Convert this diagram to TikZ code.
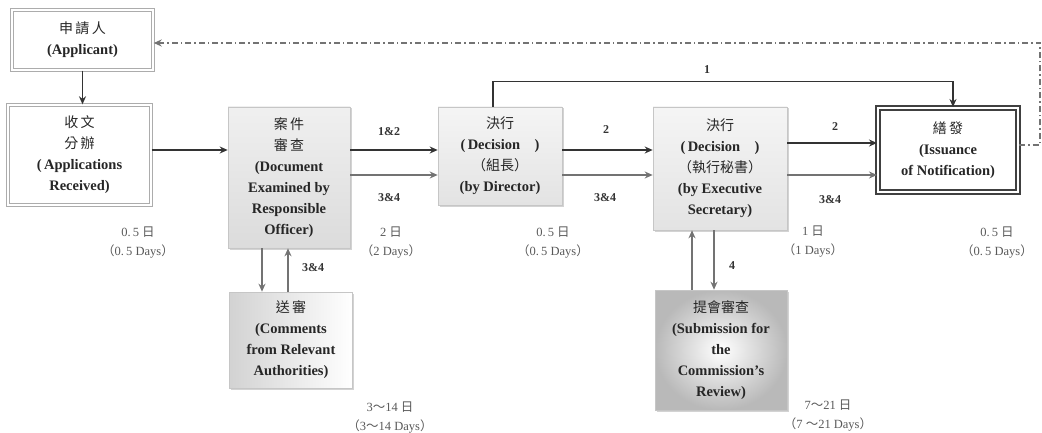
\documentclass[tikz,border=0pt]{standalone}
\usepackage{fontspec}
\setmainfont{Liberation Serif}
\newfontfamily\cjk{Noto Sans CJK TC}
\usetikzlibrary{arrows.meta,shadows,calc}
\newcommand\zh[1]{{\cjk\mdseries\fontsize{14}{21}\selectfont #1}}
\newcommand\fw[1]{{\cjk\mdseries #1}}
\begin{document}
\begin{tikzpicture}[x=1pt,y=-1pt,
 txt/.style={font=\fontsize{14.5}{21}\selectfont\bfseries, text=black!85, align=center, inner sep=0pt},
 dbl/.style={txt, draw=gray!65, double=white, double distance=1.6pt, line width=1.4pt},
 shadebox/.style={txt, draw=gray!45, line width=0.6pt, drop shadow={opacity=0.35,shadow xshift=1.5pt,shadow yshift=-1.5pt}},
 main/.style={draw=black!80, line width=1.6pt, -{Stealth[length=8pt,width=7pt]}},
 light/.style={draw=black!55, line width=1.3pt, -{Stealth[length=8pt,width=7pt]}},
 dd/.style={draw=black!55, line width=1.5pt, dash pattern=on 6pt off 3pt on 1.5pt off 3pt, -{Stealth[length=8pt,width=7pt]}},
 lab/.style={font=\fontsize{12}{13}\selectfont\bfseries, text=black!80},
 time/.style={font=\fontsize{12.5}{19}\selectfont, text=black!65, align=center},
]
\useasboundingbox (0,0) rectangle (1042,433);

% boxes
\node[dbl, minimum width=141pt, minimum height=60pt] (app) at (82.5,40) {\zh{申\,請\,人}\\(Applicant)};
\node[dbl, minimum width=143pt, minimum height=100pt] (recv) at (79.5,155) {\zh{收\,文}\\\zh{分\,辦}\\(\,Applications\\Received)};
\node[shadebox, top color=gray!12, bottom color=gray!28, minimum width=122pt, minimum height=141pt] (exam) at (289,177.5) {\zh{案\,件}\\\zh{審\,查}\\(Document\\Examined by\\Responsible\\Officer)};
\node[shadebox, top color=gray!8, bottom color=gray!22, minimum width=124pt, minimum height=98pt] (dir) at (500,156) {\zh{決行}\\(\,Decision\quad)\\\zh{（組長）}\\(by Director)};
\node[shadebox, top color=gray!8, bottom color=gray!22, minimum width=134pt, minimum height=123pt] (exec) at (720,168.5) {\zh{決行}\\(\,Decision\quad)\\\zh{（執行秘書）}\\(by Executive\\Secretary)};
\node[txt, draw=black!75, double=white, double distance=1.8pt, line width=2pt, minimum width=140pt, minimum height=84pt] (issue) at (948,150) {\zh{繕\,發}\\(Issuance\\of Notification)};
\node[shadebox, left color=gray!35, right color=white, minimum width=123pt, minimum height=96pt] (comm) at (291,340) {\zh{送\,審}\\(Comments\\from Relevant\\Authorities)};
\node[shadebox, inner color=white, outer color=gray!55, minimum width=132pt, minimum height=120pt] (rev) at (721,350) {\zh{提會審查}\\(Submission for\\the\\Commission's\\Review)};

% horizontal arrows
\draw[main] (app.south) -- (app.south |- recv.north);
\coordinate (r1) at ([yshift=5pt]recv.east);
\draw[main] (r1) -- (r1 -| exam.west);
\coordinate (e1) at ([yshift=27.5pt]exam.east);
\coordinate (e2) at ([yshift=2.5pt]exam.east);
\draw[main] (e1) -- (e1 -| dir.west);
\draw[light] (e2) -- (e2 -| dir.west);
\coordinate (d2) at ([yshift=6pt]dir.east);
\coordinate (d3) at ([yshift=-19pt]dir.east);
\draw[main] (d2) -- (d2 -| exec.west);
\draw[light] (d3) -- (d3 -| exec.west);
\coordinate (x1) at ([yshift=25.5pt]exec.east);
\coordinate (x2) at ([yshift=-6.5pt]exec.east);
\draw[main] (x1) -- (x1 -| issue.west);
\draw[light] (x2) -- (x2 -| issue.west);

% route 1
\coordinate (d1) at ([xshift=-7pt]dir.north);
\coordinate (s1) at ([xshift=5pt]issue.north);
\draw[main] (d1) -- ++(0,-25) -| (s1);

% return to applicant
\coordinate (i1) at ([yshift=5pt]issue.east);
\coordinate (a1) at ([yshift=-3pt]app.east);
\draw[dd] (i1) -- ++(21,0) |- (a1);

% vertical arrows
\coordinate (v1) at ([xshift=-27pt]exam.south);
\draw[light] (v1) -- (v1 |- comm.north);
\coordinate (v2) at ([xshift=-3pt]comm.north);
\draw[light] (v2) -- (v2 |- exam.south);
\coordinate (v3) at ([xshift=-29pt]rev.north);
\draw[light] (v3) -- (v3 |- exec.south);
\coordinate (v4) at ([xshift=-6pt]exec.south);
\draw[light] (v4) -- (v4 |- rev.north);

% arrow labels
\node[lab] (l1) at (707,70) {1};
\node[lab] (l12) at (389,132) {1\&2};
\node[lab] (l34a) at (389,198) {3\&4};
\node[lab] (l2a) at (606,130) {2};
\node[lab] (l34b) at (605,198) {3\&4};
\node[lab] (l2b) at (835,127) {2};
\node[lab] (l34c) at (830,200) {3\&4};
\node[lab] (l34d) at (313,268) {3\&4};
\node[lab] (l4) at (732,266) {4};

% time labels
\node[time] (t1) at (138,243) {0.\,5 \fw{日}\\\fw{（}0.\,5 Days\fw{）}};
\node[time] (t2) at (391,243) {2 \fw{日}\\\fw{（}2 Days\fw{）}};
\node[time] (t3) at (553,243) {0.\,5 \fw{日}\\\fw{（}0.\,5 Days\fw{）}};
\node[time] (t4) at (813,242) {1 \fw{日}\\\fw{（}1 Days\fw{）}};
\node[time] (t5) at (997,243) {0.\,5 \fw{日}\\\fw{（}0.\,5 Days\fw{）}};
\node[time] (t6) at (390,418) {3\fw{～}14 \fw{日}\\\fw{（}3\fw{～}14 Days\fw{）}};
\node[time] (t7) at (828,416) {7\fw{～}21 \fw{日}\\\fw{（}7 \fw{～}21 Days\fw{）}};
\end{tikzpicture}
\end{document}
